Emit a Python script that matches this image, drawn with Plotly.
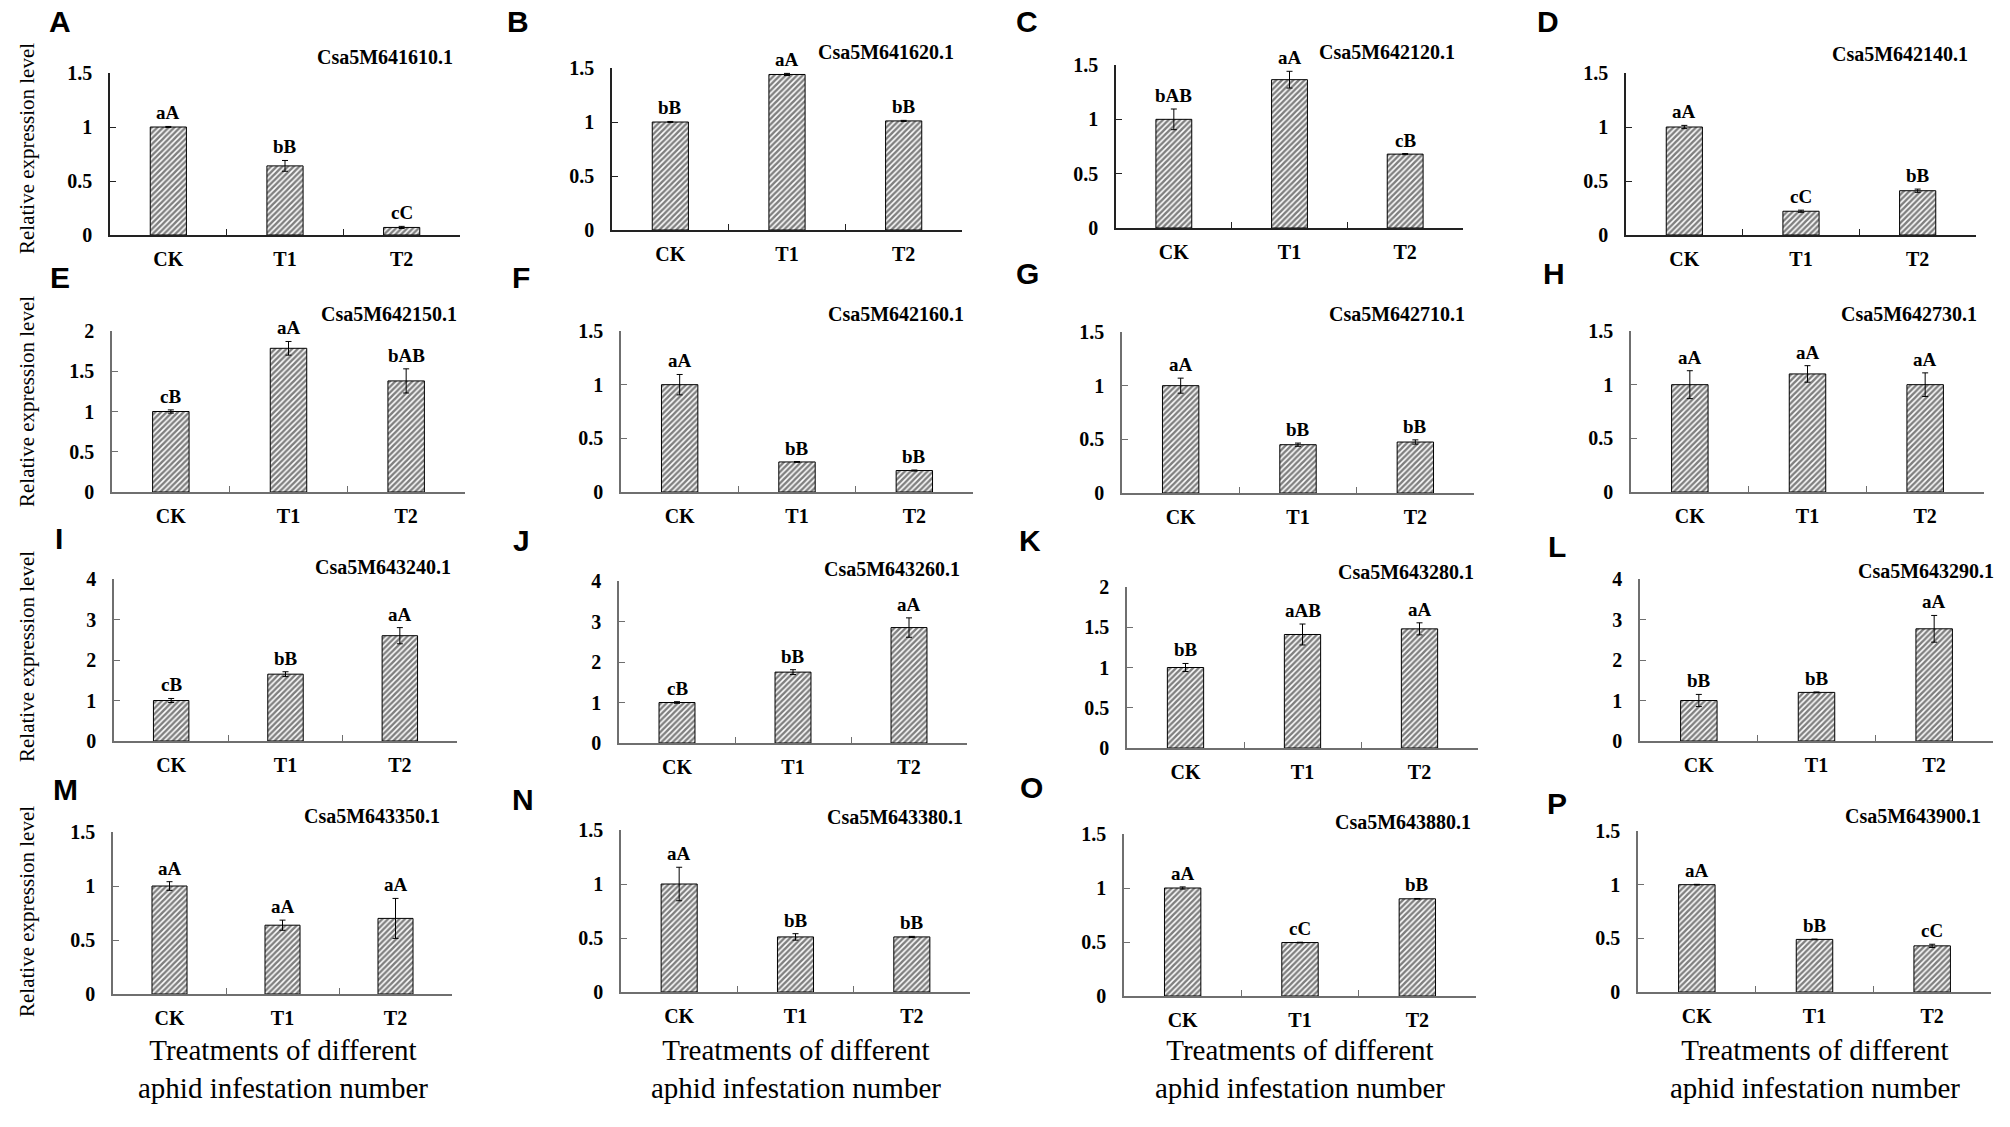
import plotly.graph_objects as go

W, H = 2010, 1127

categories = ["CK", "T1", "T2"]
panel_letters = list("ABCDEFGHIJKLMNOP")
gene_ids = ["Csa5M641610.1", "Csa5M641620.1", "Csa5M642120.1", "Csa5M642140.1",
            "Csa5M642150.1", "Csa5M642160.1", "Csa5M642710.1", "Csa5M642730.1",
            "Csa5M643240.1", "Csa5M643260.1", "Csa5M643280.1", "Csa5M643290.1",
            "Csa5M643350.1", "Csa5M643380.1", "Csa5M643880.1", "Csa5M643900.1"]

means = [
    [1.00, 0.64, 0.07], [1.00, 1.44, 1.01], [1.00, 1.365, 0.68], [1.00, 0.22, 0.41],
    [1.00, 1.785, 1.38], [1.00, 0.28, 0.20], [1.00, 0.45, 0.475], [1.00, 1.10, 1.00],
    [1.00, 1.65, 2.60], [1.00, 1.75, 2.85], [1.00, 1.41, 1.48], [1.00, 1.20, 2.77],
    [1.00, 0.637, 0.70], [1.00, 0.51, 0.51], [1.00, 0.495, 0.90], [1.00, 0.49, 0.43],
]
errors = [
    [0.005, 0.05, 0.01], [0.005, 0.01, 0.005], [0.095, 0.077, 0.005], [0.015, 0.01, 0.015],
    [0.02, 0.085, 0.15], [0.095, 0.004, 0.005], [0.07, 0.015, 0.02], [0.13, 0.077, 0.11],
    [0.05, 0.06, 0.20], [0.02, 0.06, 0.24], [0.05, 0.13, 0.075], [0.15, 0.01, 0.33],
    [0.04, 0.047, 0.185], [0.155, 0.03, 0.005], [0.01, 0.003, 0.003], [0.003, 0.003, 0.015],
]
sig_letters = [
    ["aA", "bB", "cC"], ["bB", "aA", "bB"], ["bAB", "aA", "cB"], ["aA", "cC", "bB"],
    ["cB", "aA", "bAB"], ["aA", "bB", "bB"], ["aA", "bB", "bB"], ["aA", "aA", "aA"],
    ["cB", "bB", "aA"], ["cB", "bB", "aA"], ["bB", "aAB", "aA"], ["bB", "bB", "aA"],
    ["aA", "aA", "aA"], ["aA", "bB", "bB"], ["aA", "cC", "bB"], ["aA", "bB", "cC"],
]
y_max = [1.5, 1.5, 1.5, 1.5, 2, 1.5, 1.5, 1.5, 4, 4, 2, 4, 1.5, 1.5, 1.5, 1.5]
y_step = [0.5, 0.5, 0.5, 0.5, 0.5, 0.5, 0.5, 0.5, 1, 1, 0.5, 1, 0.5, 0.5, 0.5, 0.5]

y_title = "Relative expression level"
x_title = "Treatments of different<br>aphid infestation number"

# ---- layout geometry (pixels): axis left, axis right, top-of-range y, zero y
geom = [
    (110, 460, 73, 235), (612, 962, 68, 230), (1116, 1463, 65, 228), (1626, 1976, 73, 235),
    (112, 465, 331, 492), (621, 973, 331, 492), (1122, 1474, 332, 493), (1631, 1984, 331, 492),
    (114, 457, 579, 741), (619, 967, 581, 743), (1127, 1478, 587, 748), (1640, 1993, 579, 741),
    (113, 452, 832, 994), (621, 970, 830, 992), (1124, 1476, 834, 996), (1638, 1991, 831, 992),
]
gene_pos = [
    (455, 57), (956, 52), (1457, 52), (1970, 54),
    (459, 314), (966, 314), (1467, 314), (1979, 314),
    (453, 567), (962, 569), (1476, 572), (1996, 571),
    (442, 816), (965, 817), (1473, 822), (1983, 816),
]
letter_pos = [
    (60, 22), (518, 21), (1027, 22), (1548, 21),
    (60, 277), (521, 277), (1027, 273), (1554, 273),
    (59, 538), (521, 540), (1030, 540), (1557, 546),
    (65, 789), (523, 799), (1031, 787), (1557, 803),
]
ylabel_y = [149, 402, 657, 912]


def px(x):
    return x / W


def py(y):
    return 1 - y / H


SERIF = "Times New Roman, Liberation Serif, serif"
SANS = "Arial, Liberation Sans, sans-serif"

fig = go.Figure()
annotations = []

for i in range(16):
    sfx = "" if i == 0 else str(i + 1)
    x0, x1, yt, yb = geom[i]
    row = i // 4
    lc = "#222222" if row == 0 else "#6f6f6f"

    fig.add_trace(go.Bar(
        x=categories, y=means[i],
        width=0.31,
        error_y=dict(type="data", array=errors[i], color="black", thickness=1, width=3),
        marker=dict(color="white", line=dict(color="black", width=1),
                    pattern=dict(shape="/", fgcolor="black", bgcolor="white",
                                 size=4, solidity=0.62)),
        xaxis="x" + sfx, yaxis="y" + sfx, showlegend=False,
    ))

    nt = int(round(y_max[i] / y_step[i]))
    tv = [k * y_step[i] for k in range(nt + 1)]
    tt = [f"{v:g}" for v in tv]

    fig.layout["xaxis" + sfx] = dict(
        domain=[px(x0), px(x1)], anchor="y" + sfx, type="category",
        range=[-0.5, 2.5], showline=True, linecolor=lc, linewidth=1.5,
        ticks="inside", ticklen=6, tickcolor=lc, tickwidth=1, tickson="boundaries",
        tickfont=dict(family=SERIF, size=20, color="black", weight="bold"),
        ticklabelstandoff=5, showgrid=False, zeroline=False, automargin=False,
    )
    fig.layout["yaxis" + sfx] = dict(
        domain=[py(yb), py(yt)], anchor="x" + sfx,
        range=[0, y_max[i]], tickmode="array", tickvals=tv, ticktext=tt,
        showline=True, linecolor=lc, linewidth=1.5,
        ticks="inside", ticklen=6, tickcolor=lc, tickwidth=1,
        tickfont=dict(family=SERIF, size=20, color="black", weight="bold"),
        ticklabelstandoff=12, showgrid=False, zeroline=False, automargin=False,
    )

    for c, m, e, s in zip(categories, means[i], errors[i], sig_letters[i]):
        annotations.append(dict(
            x=c, y=m + e, xref="x" + sfx, yref="y" + sfx, text=s,
            showarrow=False, yanchor="bottom", yshift=1,
            font=dict(family=SERIF, size=19, color="black", weight="bold"),
        ))

    gx, gy = gene_pos[i]
    annotations.append(dict(
        x=px(gx), y=py(gy), xref="paper", yref="paper", text=gene_ids[i],
        showarrow=False, xanchor="right", yanchor="middle",
        font=dict(family=SERIF, size=20, color="black", weight="bold"),
    ))

    lx, ly = letter_pos[i]
    annotations.append(dict(
        x=px(lx), y=py(ly), xref="paper", yref="paper", text=panel_letters[i],
        showarrow=False, xanchor="center", yanchor="middle", borderpad=0,
        font=dict(family=SANS, size=30, color="black", weight="bold"),
    ))

for yc in ylabel_y:
    annotations.append(dict(
        x=px(27), y=py(yc), xref="paper", yref="paper", text=y_title,
        showarrow=False, textangle=-90, xanchor="center", yanchor="middle",
        font=dict(family=SERIF, size=21, color="black"),
    ))

for i in range(12, 16):
    x0, x1, yt, yb = geom[i]
    annotations.append(dict(
        x=px((x0 + x1) / 2), y=py(1069), xref="paper", yref="paper", text=x_title,
        showarrow=False, xanchor="center", yanchor="middle",
        font=dict(family=SERIF, size=29, color="black"),
    ))

fig.update_layout(
    width=W, height=H, margin=dict(l=0, r=0, t=0, b=0, pad=0),
    paper_bgcolor="white", plot_bgcolor="white",
    annotations=annotations, bargap=0.5,
)

fig.write_html(
    "out.html",
    config={"displayModeBar": False},
    post_script="document.body.style.margin='0';document.body.style.overflow='hidden';",
)
